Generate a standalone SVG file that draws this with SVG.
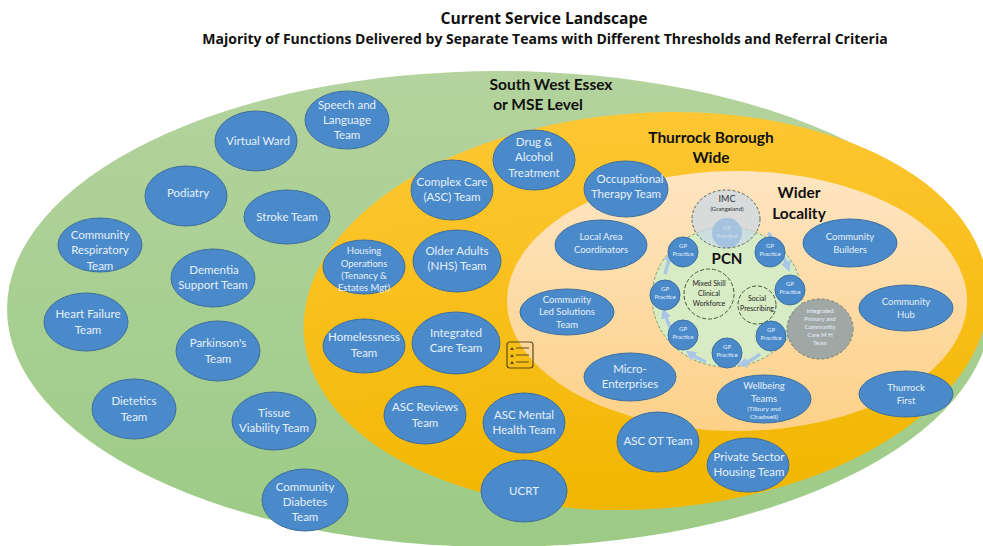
<svg xmlns="http://www.w3.org/2000/svg" width="983" height="546" viewBox="0 0 983 546">
<defs>
<marker id="a" viewBox="0 0 10 10" refX="6" refY="5" markerWidth="3" markerHeight="3" orient="auto"><path d="M0 0L10 5L0 10z" fill="#a9c6e6"/></marker>
<linearGradient id="gg" x1="0" y1="0" x2="0" y2="1"><stop offset="0" stop-color="#b4d39e"/><stop offset="1" stop-color="#9ccb86"/></linearGradient>
<linearGradient id="gy" x1="0" y1="0" x2="0" y2="1"><stop offset="0" stop-color="#fec733"/><stop offset="1" stop-color="#f1b600"/></linearGradient>
<linearGradient id="gl" x1="0" y1="0" x2="0" y2="1"><stop offset="0" stop-color="#fee5c2"/><stop offset="1" stop-color="#fdd188"/></linearGradient>
</defs>
<style>
text{font-family:Lato,"Open Sans","Liberation Sans",sans-serif;text-anchor:middle}
.n{fill:#4a8aca;stroke:#3f6f9c;stroke-width:1}
.t{fill:#e6f0fa;font-size:11.5px}
.m{fill:#e6f0fa;font-size:9.5px}
.s{fill:#e6f0fa;font-size:6.5px}
.g{fill:#e6f0fa;font-size:6px}
.h{fill:#111;font-size:15.5px;font-weight:700}
.d{fill:none;stroke:#3c5a3c;stroke-width:1;stroke-dasharray:4 2}
.k{fill:#222;font-size:7px}
.c{fill:none;stroke:#a9c6e6;stroke-width:3.5;marker-end:url(#a)}
.o{font-family:"Open Sans","Liberation Sans",sans-serif;font-weight:700;fill:#111}
</style>
<rect width="983" height="546" fill="#fff"/>
<text class="o" x="544" y="24" font-size="15.6">Current Service Landscape</text>
<text class="o" x="545" y="44" font-size="14">Majority of Functions Delivered by Separate Teams with Different Thresholds and Referral Criteria</text>

<ellipse id="mse" cx="499" cy="309" rx="492" ry="238" fill="url(#gg)"/>
<ellipse id="borough" cx="646" cy="311" rx="343" ry="198" transform="rotate(-4 646 311)" fill="url(#gy)"/>
<ellipse id="locality" cx="737" cy="301" rx="230" ry="130" fill="url(#gl)"/>

<text class="h" x="551" y="90">South West Essex</text>
<text class="h" x="538" y="110">or MSE Level</text>
<text class="h" x="711" y="143">Thurrock Borough</text>
<text class="h" x="711" y="163">Wide</text>
<text class="h" x="799" y="198">Wider</text>
<text class="h" x="799" y="219">Locality</text>

<g id="pcn-circle"><ellipse cx="727" cy="297" rx="75" ry="70" fill="#d7ecc4" stroke="#7f9f6f" stroke-width="1" stroke-dasharray="3 2"/></g>
<g id="connectors">
<path class="c" d="M768 233Q781 248 788 268"/>
<path class="c" d="M796 310Q795 322 789 336"/>
<path class="c" d="M760 354Q750 362 741 364"/>
<path class="c" d="M706 362Q696 358 689 353"/>
<path class="c" d="M670 327Q666 318 664 312"/>
<path class="c" d="M665 274Q667 265 671 255"/>
</g>

<g id="speech"><ellipse class="n" cx="347" cy="120" rx="42" ry="29"/><text class="t" x="347" y="109">Speech and</text><text class="t" x="347" y="124">Language</text><text class="t" x="347" y="139">Team</text></g>
<g id="virtual-ward"><ellipse class="n" cx="256" cy="141" rx="41" ry="30"/><text class="t" x="258" y="145">Virtual Ward</text></g>
<g id="podiatry"><ellipse class="n" cx="186" cy="196" rx="41" ry="30"/><text class="t" x="188" y="197">Podiatry</text></g>
<g id="stroke"><ellipse class="n" cx="287" cy="217" rx="43" ry="27"/><text class="t" x="287" y="221">Stroke Team</text></g>
<g id="respiratory"><ellipse class="n" cx="100" cy="245" rx="42" ry="27" /><text class="t" x="100" y="239">Community</text><text class="t" x="100" y="254">Respiratory</text><text class="t" x="100" y="270">Team</text></g>
<g id="dementia"><ellipse class="n" cx="213" cy="278" rx="42" ry="29"/><text class="t" x="214" y="274">Dementia</text><text class="t" x="213" y="289">Support Team</text></g>
<g id="heart-failure"><ellipse class="n" cx="86" cy="322" rx="42" ry="29"/><text class="t" x="88" y="318">Heart Failure</text><text class="t" x="88" y="334">Team</text></g>
<g id="parkinsons"><ellipse class="n" cx="218" cy="351" rx="42" ry="30"/><text class="t" x="218" y="347">Parkinson's</text><text class="t" x="218" y="363">Team</text></g>
<g id="dietetics"><ellipse class="n" cx="134" cy="409" rx="42" ry="30"/><text class="t" x="134" y="405">Dietetics</text><text class="t" x="134" y="421">Team</text></g>
<g id="tissue"><ellipse class="n" cx="274" cy="421" rx="42" ry="29"/><text class="t" x="274" y="417">Tissue</text><text class="t" x="274" y="432">Viability Team</text></g>
<g id="diabetes"><ellipse class="n" cx="305" cy="500" rx="43" ry="31"/><text class="t" x="305" y="491">Community</text><text class="t" x="305" y="506">Diabetes</text><text class="t" x="305" y="521">Team</text></g>

<g id="drug"><ellipse class="n" cx="534" cy="160" rx="41" ry="30"/><text class="t" x="534" y="146">Drug &amp;</text><text class="t" x="534" y="161">Alcohol</text><text class="t" x="534" y="177">Treatment</text></g>
<g id="complex"><ellipse class="n" cx="452" cy="190" rx="41" ry="30"/><text class="t" x="452" y="186">Complex Care</text><text class="t" x="452" y="201">(ASC) Team</text></g>
<g id="occupational"><ellipse class="n" cx="626" cy="189" rx="42" ry="28"/><text class="t" x="630" y="183">Occupational</text><text class="t" x="626" y="198">Therapy Team</text></g>
<g id="housing"><ellipse class="n" cx="364" cy="267" rx="41" ry="27"/><text class="m" x="364" y="254">Housing</text><text class="m" x="364" y="267">Operations</text><text class="m" x="364" y="279">(Tenancy &amp;</text><text class="m" x="364" y="291">Estates Mgt)</text></g>
<g id="older"><ellipse class="n" cx="457" cy="261" rx="44" ry="31"/><text class="t" x="457" y="255">Older Adults</text><text class="t" x="457" y="270">(NHS) Team</text></g>
<g id="homeless"><ellipse class="n" cx="364" cy="346" rx="41" ry="27"/><text class="t" x="364" y="341">Homelessness</text><text class="t" x="364" y="357">Team</text></g>
<g id="integrated"><ellipse class="n" cx="456" cy="343" rx="44" ry="31"/><text class="t" x="456" y="337">Integrated</text><text class="t" x="456" y="352">Care Team</text></g>
<g id="checklist"><rect x="507" y="342" width="26" height="26" rx="3" fill="none" stroke="#5c4a1c" stroke-width="1.2"/><path d="M516 348H529M516 355H529M516 362H529" stroke="#5c4a1c" stroke-width="1"/><path d="M510 350l2-3l2 3zM510 357l2-3l2 3zM510 364l2-3l2 3z" fill="#5c4a1c"/></g>
<g id="asc-reviews"><ellipse class="n" cx="425" cy="415" rx="41" ry="29"/><text class="t" x="425" y="411">ASC Reviews</text><text class="t" x="425" y="427">Team</text></g>
<g id="asc-mental"><ellipse class="n" cx="524" cy="423" rx="41" ry="30"/><text class="t" x="524" y="419">ASC Mental</text><text class="t" x="524" y="434">Health Team</text></g>
<g id="ucrt"><ellipse class="n" cx="524" cy="491" rx="43" ry="31"/><text class="t" x="524" y="495">UCRT</text></g>
<g id="asc-ot"><ellipse class="n" cx="658" cy="442" rx="41" ry="30"/><text class="t" x="658" y="445">ASC OT Team</text></g>
<g id="private"><ellipse class="n" cx="748" cy="465" rx="41" ry="27"/><text class="t" x="749" y="461">Private Sector</text><text class="t" x="749" y="476">Housing Team</text></g>

<g id="coordinators"><ellipse class="n" cx="601" cy="245" rx="46" ry="25"/><text class="m" x="601" y="240">Local Area</text><text class="m" x="601" y="253">Coordinators</text></g>
<g id="community-led"><ellipse class="n" cx="567" cy="312" rx="47" ry="23"/><text class="m" x="567" y="303">Community</text><text class="m" x="567" y="315">Led Solutions</text><text class="m" x="567" y="328">Team</text></g>
<g id="micro"><ellipse class="n" cx="630" cy="377" rx="46" ry="24"/><text class="t" x="630" y="373">Micro-</text><text class="t" x="630" y="388">Enterprises</text></g>
<g id="wellbeing"><ellipse class="n" cx="764" cy="399" rx="47" ry="24"/><text class="m" x="764" y="389">Wellbeing</text><text class="m" x="764" y="402">Teams</text><text class="s" x="764" y="411">(Tilbury and</text><text class="s" x="764" y="419">Chadwell)</text></g>
<g id="builders"><ellipse class="n" cx="850" cy="243" rx="47" ry="24"/><text class="m" x="850" y="240">Community</text><text class="m" x="850" y="253">Builders</text></g>
<g id="hub"><ellipse class="n" cx="906" cy="308" rx="47" ry="23"/><text class="m" x="906" y="305">Community</text><text class="m" x="906" y="318">Hub</text></g>
<g id="thurrock-first"><ellipse class="n" cx="906" cy="394" rx="47" ry="23"/><text class="m" x="906" y="391">Thurrock</text><text class="m" x="906" y="404">First</text></g>

<g id="gp1"><circle cx="727" cy="233" r="15" fill="#4a8aca"/></g>
<g id="imc"><ellipse cx="726" cy="219" rx="34" ry="29" fill="#c9d8e8" fill-opacity=".72" stroke="#5a6a5a" stroke-dasharray="3 2"/><text x="727" y="202" font-size="9" fill="#333">IMC</text><text x="727" y="211" font-size="6" fill="#333">(Grangeland)</text><text class="g" x="727" y="230" fill-opacity=".7">GP</text><text class="g" x="727" y="238" fill-opacity=".7">Practice</text></g>
<text x="727" y="264" font-size="15" font-weight="700" fill="#111">PCN</text>
<g id="gp2"><circle class="n" cx="683" cy="252" r="15"/><text class="g" x="683" y="248">GP</text><text class="g" x="683" y="256">Practice</text></g>
<g id="gp3"><circle class="n" cx="770" cy="252" r="15"/><text class="g" x="770" y="248">GP</text><text class="g" x="770" y="256">Practice</text></g>
<g id="gp4"><circle class="n" cx="665" cy="295" r="15"/><text class="g" x="665" y="291">GP</text><text class="g" x="665" y="299">Practice</text></g>
<g id="gp5"><circle class="n" cx="790" cy="290" r="15"/><text class="g" x="790" y="286">GP</text><text class="g" x="790" y="294">Practice</text></g>
<g id="gp6"><circle class="n" cx="683" cy="335" r="15"/><text class="g" x="683" y="331">GP</text><text class="g" x="683" y="339">Practice</text></g>
<g id="gp7"><circle class="n" cx="771" cy="336" r="15"/><text class="g" x="771" y="332">GP</text><text class="g" x="771" y="340">Practice</text></g>
<g id="gp8"><circle class="n" cx="727" cy="353" r="15"/><text class="g" x="727" y="349">GP</text><text class="g" x="727" y="357">Practice</text></g>
<g id="workforce"><circle class="d" cx="709" cy="294" r="25"/><text class="k" x="709" y="286">Mixed Skill</text><text class="k" x="709" y="296">Clinical</text><text class="k" x="709" y="306">Workforce</text></g>
<g id="social"><circle class="d" cx="757" cy="305" r="19"/><text class="k" x="757" y="301">Social</text><text class="k" x="757" y="311">Prescribing</text></g>
<g id="integrated-mh"><ellipse cx="820" cy="329" rx="33" ry="30" fill="#a0a8a6" stroke="#6f7f7a" stroke-dasharray="3 2"/><text class="g" x="820" y="313">Integrated</text><text class="g" x="820" y="321">Primary and</text><text class="g" x="820" y="329">Community</text><text class="g" x="820" y="337">Care M H</text><text class="g" x="820" y="345">Team</text></g>
</svg>
